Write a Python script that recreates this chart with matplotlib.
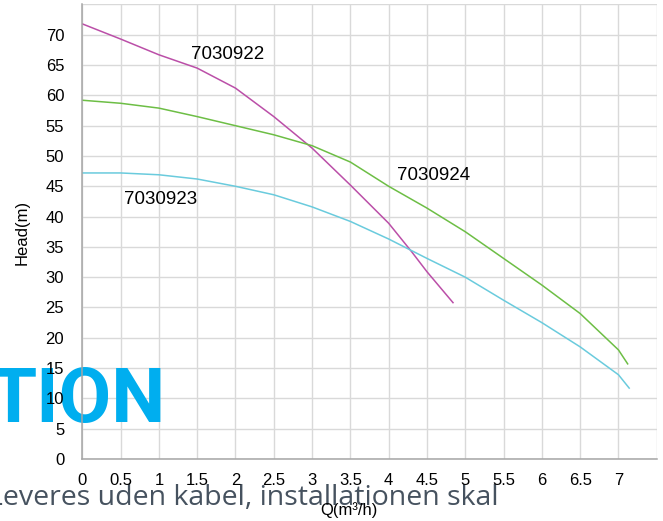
"""
Pump curves: head against flow for three pump models.
"""
import matplotlib
matplotlib.use('Agg')
import matplotlib.pyplot as plt

# flow (m3/h) and head (m)
flow_7030922 = [0, 0.5, 1, 1.5, 2, 2.5, 3, 3.5, 4, 4.3, 4.5, 4.84]
head_7030922 = [71.8, 69.3, 66.7, 64.5, 61.2, 56.5, 51.3, 45.2, 38.9, 34.2, 30.9, 25.8]

flow_7030924 = [0, 0.5, 1, 1.5, 2, 2.5, 3, 3.5, 4, 4.5, 5, 5.5, 6, 6.5, 7, 7.12]
head_7030924 = [59.2, 58.7, 57.9, 56.5, 55.0, 53.5, 51.7, 49.0, 45.0, 41.4, 37.5, 33.1, 28.7, 24.0, 18.0, 15.7]

flow_7030923 = [0, 0.5, 1, 1.5, 2, 2.5, 3, 3.5, 4, 4.5, 5, 5.5, 6, 6.5, 7, 7.14]
head_7030923 = [47.2, 47.2, 46.9, 46.2, 45.0, 43.6, 41.6, 39.2, 36.3, 33.1, 30.0, 26.2, 22.5, 18.5, 13.9, 11.7]

x_ticks = [i * 0.5 for i in range(16)]
x_tick_labels = ['0', '0.5', '1', '1.5', '2', '2.5', '3', '3.5', '4', '4.5',
                 '5', '5.5', '6', '6.5', '7', '']
y_ticks = list(range(0, 80, 5))
y_tick_labels = [str(v) for v in range(0, 75, 5)] + ['']


def main():
    plt.rcParams['font.family'] = ['Liberation Sans', 'DejaVu Sans']

    fig = plt.figure(figsize=(6.63, 5.21), dpi=100)
    rect = [0.1241, 0.119, 0.8665, 0.8724]

    # grid sits behind the overlapping page text
    ax_bg = fig.add_axes(rect, zorder=0)
    ax_bg.set_xlim(0, 7.5)
    ax_bg.set_ylim(0, 75)
    ax_bg.set_xticks(x_ticks)
    ax_bg.set_yticks(y_ticks)
    ax_bg.grid(True, color='#d9d9d9', linewidth=1.0)
    ax_bg.tick_params(length=0, labelbottom=False, labelleft=False)
    for s in ax_bg.spines.values():
        s.set_visible(False)

    # stray page text caught in the screenshot
    fig.text(166 / 663, 1 - 421.7 / 521, 'TION', color='#00aeef', fontsize=55,
             fontweight='bold', family=['Roboto', 'DejaVu Sans'],
             ha='right', va='baseline', zorder=1)
    fig.text(499 / 663, 1 - 505 / 521, 'Leveres uden kabel, installationen skal',
             color='#46525f', fontsize=20.5, family=['Open Sans', 'DejaVu Sans'],
             ha='right', va='baseline', zorder=1)

    ax = fig.add_axes(rect, zorder=2, sharex=ax_bg, sharey=ax_bg)
    ax.patch.set_alpha(0)
    ax.plot(flow_7030922, head_7030922, color='#bb4fa8', linewidth=1.1)
    ax.plot(flow_7030924, head_7030924, color='#6dbe45', linewidth=1.1)
    ax.plot(flow_7030923, head_7030923, color='#6acbdd', linewidth=1.1)

    ax.set_xlim(0, 7.5)
    ax.set_ylim(0, 75)
    ax.set_xticks(x_ticks, x_tick_labels)
    ax.set_yticks(y_ticks, y_tick_labels)
    ax.tick_params(length=0, labelsize=12)
    ax.tick_params(axis='x', pad=10)
    ax.tick_params(axis='y', pad=13)
    ax.spines['top'].set_visible(False)
    ax.spines['right'].set_visible(False)
    ax.spines['left'].set_color('#a6a6a6')
    ax.spines['bottom'].set_color('#a6a6a6')
    ax.spines['left'].set_linewidth(1.1)
    ax.spines['bottom'].set_linewidth(1.1)

    ax.text(1.90, 66.8, '7030922', fontsize=13.5, ha='center', va='center')
    ax.text(4.59, 46.8, '7030924', fontsize=13.5, ha='center', va='center')
    ax.text(1.017, 42.8, '7030923', fontsize=13.5, ha='center', va='center')

    fig.text(22 / 663, 1 - 232 / 521, 'Head(m)', fontsize=12, rotation=90,
             ha='center', va='center', zorder=3)
    fig.text(349 / 663, 1 - 510 / 521, 'Q(m³/h)', fontsize=12,
             ha='center', va='center', zorder=3)

    plt.savefig('out.png', dpi=100)
    plt.close()


if __name__ == "__main__":
    main()
